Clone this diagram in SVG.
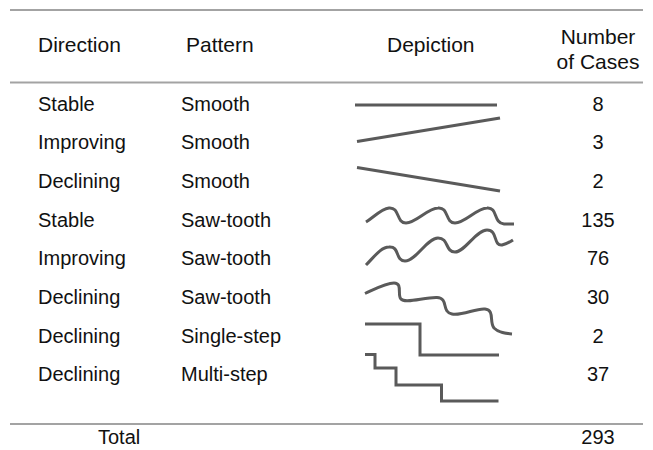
<svg xmlns="http://www.w3.org/2000/svg" width="653" height="450" viewBox="0 0 653 450">
<style>
.t{font-family:"Liberation Sans",Arial,sans-serif;font-size:20px;fill:#111}
.h{font-family:"Liberation Sans",Arial,sans-serif;font-size:21px;fill:#111}
.m{text-anchor:middle}
.rule{stroke:#a3a3a3;stroke-width:2;fill:none}
.d{stroke:#5a5a5a;stroke-width:3;fill:none;stroke-linejoin:miter}
</style>
<rect width="653" height="450" fill="#fff"/>
<g id="rules">
<line class="rule" x1="10" y1="10" x2="643" y2="10"/>
<line class="rule" x1="10" y1="82.5" x2="643" y2="82.5"/>
<line class="rule" x1="10" y1="424" x2="643" y2="424"/>
</g>
<g id="header">
<text class="h" x="38" y="52">Direction</text>
<text class="h" x="186" y="52">Pattern</text>
<text class="h" x="387" y="52">Depiction</text>
<text class="h m" x="598" y="44">Number</text>
<text class="h m" x="598" y="68.5">of Cases</text>
</g>
<g id="row1">
<text class="t" x="38" y="110.5">Stable</text>
<text class="t" x="181" y="110.5">Smooth</text>
<path class="d" d="M355,105 L497,105"/>
<text class="t m" x="598" y="110.5">8</text>
</g>
<g id="row2">
<text class="t" x="38" y="149">Improving</text>
<text class="t" x="181" y="149">Smooth</text>
<path class="d" d="M357,141.5 L500,118"/>
<text class="t m" x="598" y="149">3</text>
</g>
<g id="row3">
<text class="t" x="38" y="188">Declining</text>
<text class="t" x="181" y="188">Smooth</text>
<path class="d" d="M357,167.5 L500,191"/>
<text class="t m" x="598" y="188">2</text>
</g>
<g id="row4">
<text class="t" x="38" y="226.5">Stable</text>
<text class="t" x="181" y="226.5">Saw-tooth</text>
<path class="d" d="M366,222 C374,217 381,209 389,208 C400,207 396,223 406,223 C416,223 428,208 438,208 C449,207 445,223 455,223 C465,223 477,208 487,208 C498,207 493,223 504,224 L514,224"/>
<text class="t m" x="598" y="226.5">135</text>
</g>
<g id="row5">
<text class="t" x="38" y="265">Improving</text>
<text class="t" x="181" y="265">Saw-tooth</text>
<path class="d" d="M366,265 C374,257 381,247 389,247 C400,246 395,261 405,261 C416,261 427,238 438,238 C449,238 445,252 455,252 C465,252 476,230 487,230 C498,230 493,246 502,245 C506,244 510,242 513,240"/>
<text class="t m" x="598" y="265">76</text>
</g>
<g id="row6">
<text class="t" x="38" y="304">Declining</text>
<text class="t" x="181" y="304">Saw-tooth</text>
<path class="d" d="M365,293.5 C375,289 386,283 394,283 C403,283 397,295 401,299 C405,304 425,297 437,297.5 C449,298 441,312 452,314 C462,316 476,308 485,309 C495,310 489,322 494,328 C499,333 506,333.5 512,334"/>
<text class="t m" x="598" y="304">30</text>
</g>
<g id="row7">
<text class="t" x="38" y="342.5">Declining</text>
<text class="t" x="181" y="342.5">Single-step</text>
<path class="d" d="M365,324 L420,324 L420,355 L499,355"/>
<text class="t m" x="598" y="342.5">2</text>
</g>
<g id="row8">
<text class="t" x="38" y="381">Declining</text>
<text class="t" x="181" y="381">Multi-step</text>
<path class="d" d="M365,354.5 L375,354.5 L375,368 L396,368 L396,385 L441.5,385 L441.5,401 L498.5,401"/>
<text class="t m" x="598" y="381">37</text>
</g>
<g id="total">
<text class="t" x="98" y="444">Total</text>
<text class="t m" x="598" y="444">293</text>
</g>
</svg>
